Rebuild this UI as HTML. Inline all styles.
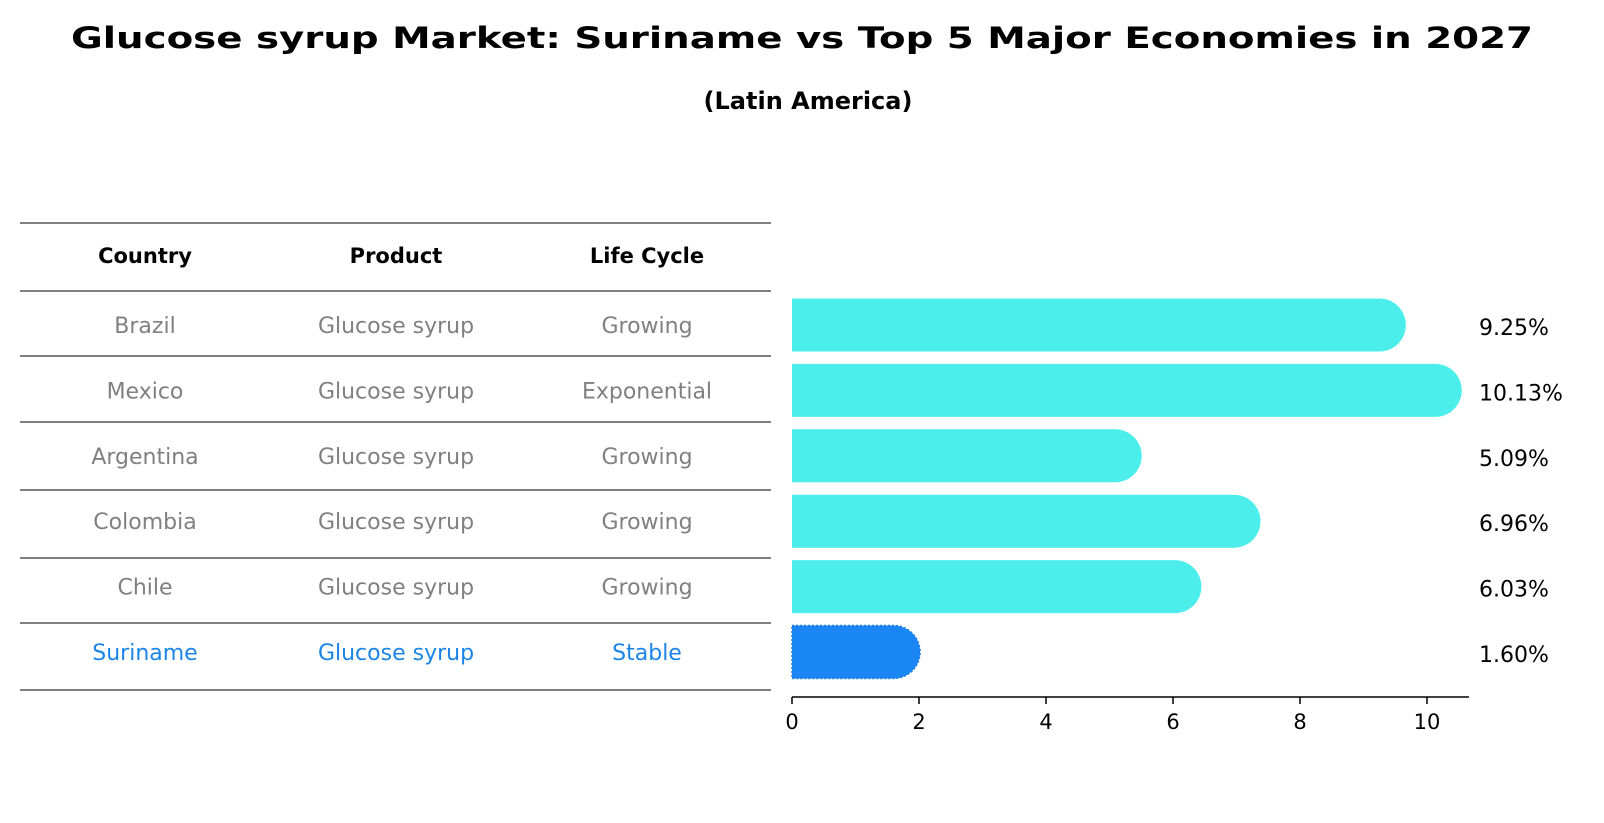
<!DOCTYPE html>
<html><head><meta charset="utf-8"><style>html,body{margin:0;padding:0;background:#fff}svg{display:block;font-family:"DejaVu Sans","Liberation Sans",sans-serif}</style></head>
<body>
<svg id="chart" width="1604" height="823" viewBox="0 0 1604 823" xmlns="http://www.w3.org/2000/svg">
<text x="802" y="48" text-anchor="middle" font-size="29" font-weight="bold" textLength="1462" lengthAdjust="spacingAndGlyphs">Glucose syrup Market: Suriname vs Top 5 Major Economies in 2027</text>
<text x="808" y="109" text-anchor="middle" font-size="24" font-weight="bold">(Latin America)</text>
<g id="table"></g>
<g id="bars"></g>
</svg>
<script>
const countries = ["Brazil","Mexico","Argentina","Colombia","Chile","Suriname"];
const products = ["Glucose syrup","Glucose syrup","Glucose syrup","Glucose syrup","Glucose syrup","Glucose syrup"];
const lifeCycles = ["Growing","Exponential","Growing","Growing","Growing","Stable"];
const values = [9.25,10.13,5.09,6.96,6.03,1.60];
const valueLabels = ["9.25%","10.13%","5.09%","6.96%","6.03%","1.60%"];
const xTicks = [0,2,4,6,8,10];

const NS="http://www.w3.org/2000/svg";
function mk(tag, attrs, parent){const e=document.createElementNS(NS,tag);for(const k in attrs)e.setAttribute(k,attrs[k]);parent.appendChild(e);return e;}
const x0=792, pxPer=63.5;
const xs=v=>x0+v*pxPer;
const rowY=i=>325+i*65.4;
const barH=53;

// table
const tbl=document.getElementById('table');
const lines=[223,291,356,422,490,558,623,690];
lines.forEach((y,i)=>{const l=mk('line',{x1:20,x2:771,y1:y,y2:y,stroke:'#000','stroke-width':1},tbl);

});
const colX=[145,396,647];
["Country","Product","Life Cycle"].forEach((h,j)=>{const t=mk('text',{x:colX[j],y:263,'text-anchor':'middle','font-size':21,'font-weight':'bold'},tbl);t.textContent=h;

});
countries.forEach((c,i)=>{
  const col=i===countries.length-1?'#1a85e6':'#808080';
  [c,products[i],lifeCycles[i]].forEach((v,j)=>{
    const t=mk('text',{x:colX[j],y:rowY(i)+8,'text-anchor':'middle','font-size':22,fill:col},tbl);t.textContent=v;
    
    
  });
});

// bars
const g=document.getElementById('bars');
values.forEach((v,i)=>{
  const hi=i===values.length-1;
  const yc=rowY(i), r=barH/2, xe=xs(v);
  const d=`M${x0},${yc-r} L${xe},${yc-r} A${r},${r} 0 0 1 ${xe},${yc+r} L${x0},${yc+r} Z`;
  const p=mk('path',{d:d,fill:hi?'#1a85f5':'#4beeea'},g);
  if(hi){p.setAttribute('stroke','#1a7ee0');p.setAttribute('stroke-dasharray','2,2');p.setAttribute('stroke-width','1.5');}
  
  
  const t=mk('text',{x:1479,y:yc+10,'font-size':22,fill:'#000'},g);t.textContent=valueLabels[i];
  
  
});
const ax=mk('line',{x1:x0,x2:1469,y1:697,y2:697,stroke:'#000','stroke-width':1.5},g);


xTicks.forEach(v=>{
  const tk=mk('line',{x1:xs(v),x2:xs(v),y1:697,y2:704,stroke:'#000','stroke-width':1.5},g);
  
  
  const t=mk('text',{x:xs(v),y:729,'text-anchor':'middle','font-size':21},g);t.textContent=v;
  
  
});
</script>
</body></html>
